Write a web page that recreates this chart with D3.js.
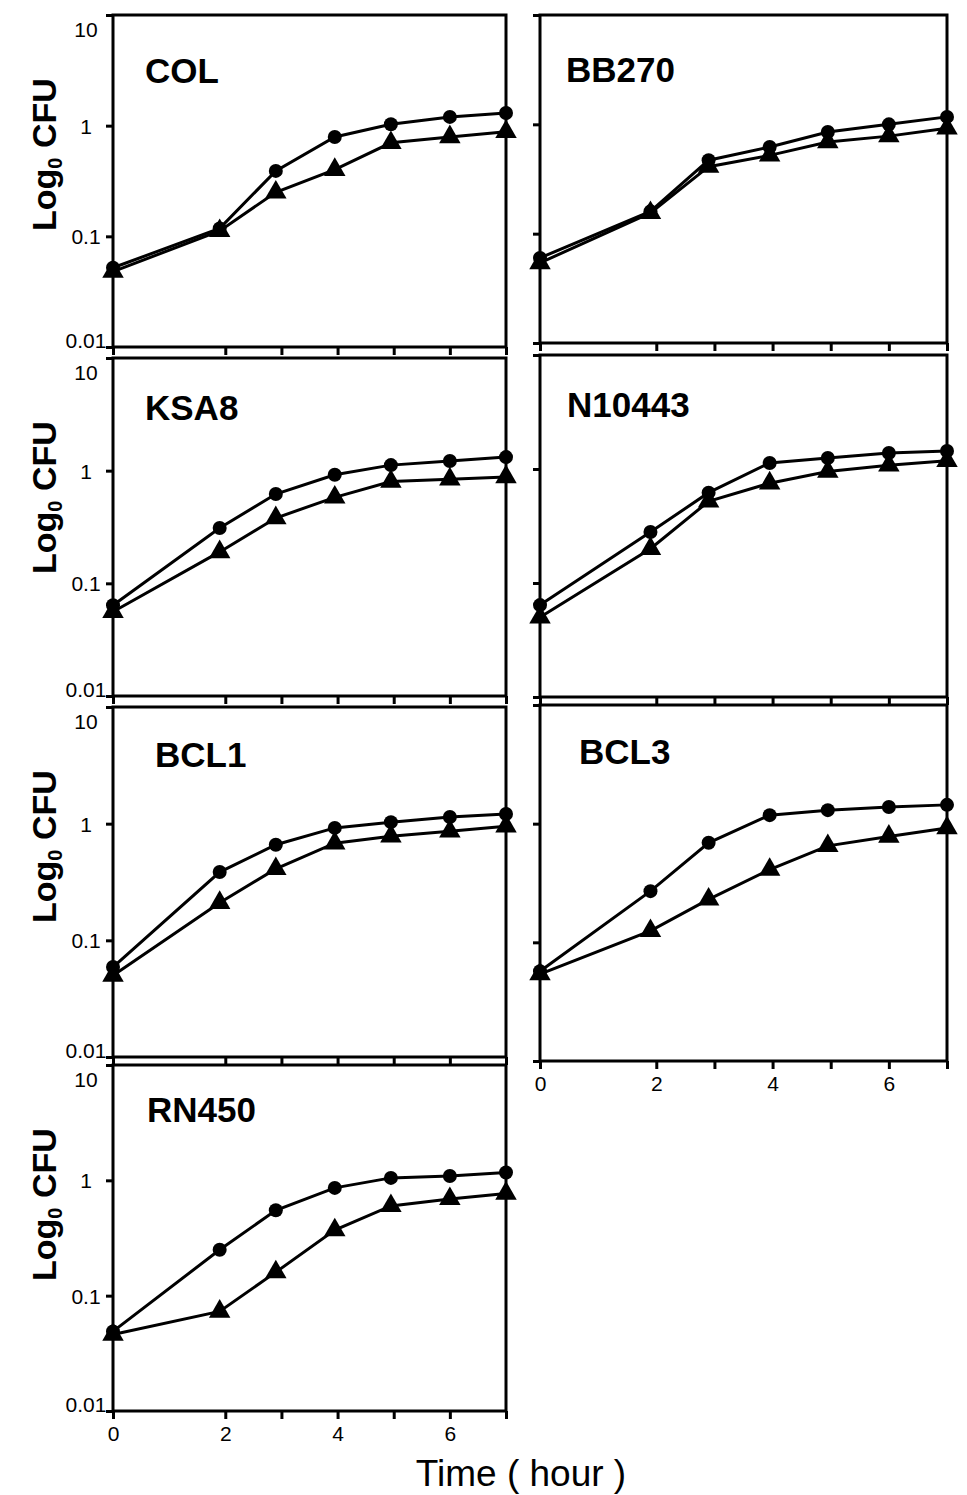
<!DOCTYPE html>
<html>
<head>
<meta charset="utf-8">
<script src="https://cdn.jsdelivr.net/npm/d3@7/dist/d3.min.js"></script>
<style>
body { margin: 0; background: #fff; }
svg { display: block; font-family: "Liberation Sans", Arial, Helvetica, sans-serif; }
</style>
</head>
<body>
<div id="chart"></div>
<script>
// sampling times (hours) and axis ticks
var hours = [0, 1.9, 2.9, 3.95, 4.95, 6, 7];
var xTicks = [0, 2, 3, 4, 5, 6, 7];
var xTickLabels = [0, 2, 4, 6];
var yTicks = [10, 1, 0.1, 0.01];

// CFU readings per strain: circle series and triangle series
var colCircle = [0.052, 0.118, 0.39, 0.79, 1.03, 1.2, 1.3];
var colTriangle = [0.048, 0.112, 0.25, 0.40, 0.70, 0.79, 0.88];
var bb270Circle = [0.060, 0.16, 0.47, 0.62, 0.85, 1.0, 1.17];
var bb270Triangle = [0.054, 0.155, 0.41, 0.52, 0.69, 0.78, 0.92];
var ksa8Circle = [0.064, 0.31, 0.62, 0.92, 1.12, 1.22, 1.32];
var ksa8Triangle = [0.056, 0.19, 0.38, 0.58, 0.80, 0.84, 0.88];
var n10443Circle = [0.064, 0.28, 0.62, 1.13, 1.25, 1.38, 1.44];
var n10443Triangle = [0.050, 0.20, 0.52, 0.75, 0.95, 1.08, 1.18];
var bcl1Circle = [0.059, 0.385, 0.66, 0.92, 1.03, 1.14, 1.21];
var bcl1Triangle = [0.050, 0.21, 0.41, 0.68, 0.78, 0.86, 0.95];
var bcl3Circle = [0.057, 0.27, 0.69, 1.18, 1.30, 1.38, 1.44];
var bcl3Triangle = [0.054, 0.125, 0.23, 0.41, 0.65, 0.78, 0.92];
var rn450Circle = [0.049, 0.25, 0.55, 0.86, 1.05, 1.09, 1.17];
var rn450Triangle = [0.046, 0.073, 0.16, 0.37, 0.60, 0.69, 0.77];

var strains = ['COL', 'BB270', 'KSA8', 'N10443', 'BCL1', 'BCL3', 'RN450'];
var circleSeries = [colCircle, bb270Circle, ksa8Circle, n10443Circle, bcl1Circle, bcl3Circle, rn450Circle];
var triangleSeries = [colTriangle, bb270Triangle, ksa8Triangle, n10443Triangle, bcl1Triangle, bcl3Triangle, rn450Triangle];

// page layout of each panel (pixels)
var leftColumn = { x0: 113, x1: 506 };
var rightColumn = { x0: 540, x1: 947 };
var panelLayout = [
	{ col: leftColumn,  top: 15,   bottom: 347,  lx: 145, ly: 83,   yLabels: true,  xLabels: false },
	{ col: rightColumn, top: 15,   bottom: 343,  lx: 566, ly: 82,   yLabels: false, xLabels: false },
	{ col: leftColumn,  top: 358,  bottom: 696,  lx: 145, ly: 420,  yLabels: true,  xLabels: false },
	{ col: rightColumn, top: 355,  bottom: 697,  lx: 567, ly: 417,  yLabels: false, xLabels: false },
	{ col: leftColumn,  top: 707,  bottom: 1057, lx: 155, ly: 767,  yLabels: true,  xLabels: false },
	{ col: rightColumn, top: 705,  bottom: 1061, lx: 579, ly: 764,  yLabels: false, xLabels: true },
	{ col: leftColumn,  top: 1065, bottom: 1411, lx: 147, ly: 1122, yLabels: true,  xLabels: true }
];

var width = 967;
var height = 1495;
var fontFamily = '"Liberation Sans", Arial, Helvetica, sans-serif';

var svg = d3.select('#chart')
	.append('svg')
	.attr('width', width)
	.attr('height', height);

function drawPanel(i) {
	var p = panelLayout[i];
	var x = d3.scaleLinear().domain([0, 7]).range([p.col.x0, p.col.x1]);
	var y = d3.scaleLog().domain([0.01, 10]).range([p.bottom, p.top]);
	var g = svg.append('g').attr('class', 'panel');

	// bottom axis ticks
	var xAxis = d3.axisBottom(x)
		.tickValues(xTicks)
		.tickSize(8)
		.tickSizeOuter(0)
		.tickFormat(function(d) { return (p.xLabels && xTickLabels.indexOf(d) >= 0) ? d : ''; });
	var gx = g.append('g')
		.attr('transform', 'translate(0,' + p.bottom + ')')
		.call(xAxis);
	gx.attr('font-family', fontFamily).attr('font-size', 21);
	gx.select('.domain').remove();
	gx.selectAll('line').attr('stroke', '#000').attr('stroke-width', 3);
	gx.selectAll('text')
		.attr('y', 15)
		.attr('fill', '#000');

	// left axis ticks
	var yAxis = d3.axisLeft(y)
		.tickValues(yTicks)
		.tickSize(7)
		.tickSizeOuter(0)
		.tickFormat(function(d) { return p.yLabels ? String(d) : ''; });
	var gy = g.append('g')
		.attr('transform', 'translate(' + p.col.x0 + ',0)')
		.call(yAxis);
	gy.attr('font-family', fontFamily).attr('font-size', 21);
	gy.select('.domain').remove();
	gy.selectAll('line').attr('stroke', '#000').attr('stroke-width', 3);
	gy.selectAll('text')
		.attr('x', -27)
		.attr('text-anchor', 'middle')
		.attr('fill', '#000')
		.attr('dy', function(d) { return d === 10 ? '1.0em' : (d === 0.01 ? '0.0em' : '0.35em'); });

	// frame
	g.append('rect')
		.attr('x', p.col.x0)
		.attr('y', p.top)
		.attr('width', p.col.x1 - p.col.x0)
		.attr('height', p.bottom - p.top)
		.attr('fill', 'none')
		.attr('stroke', '#000')
		.attr('stroke-width', 3);

	var circles = hours.map(function(h, k) { return { h: h, v: circleSeries[i][k] }; });
	var triangles = hours.map(function(h, k) { return { h: h, v: triangleSeries[i][k] }; });

	var line = d3.line()
		.x(function(d) { return x(d.h); })
		.y(function(d) { return y(d.v); });

	g.append('path').datum(triangles)
		.attr('d', line).attr('fill', 'none')
		.attr('stroke', '#000').attr('stroke-width', 3);
	g.append('path').datum(circles)
		.attr('d', line).attr('fill', 'none')
		.attr('stroke', '#000').attr('stroke-width', 3);

	g.selectAll('path.tri')
		.data(triangles)
		.enter()
		.append('path')
		.attr('class', 'tri')
		.attr('d', d3.symbol().type(d3.symbolTriangle).size(200))
		.attr('transform', function(d) { return 'translate(' + x(d.h) + ',' + y(d.v) + ')'; })
		.attr('fill', '#000');

	g.selectAll('circle.dot')
		.data(circles)
		.enter()
		.append('circle')
		.attr('class', 'dot')
		.attr('cx', function(d) { return x(d.h); })
		.attr('cy', function(d) { return y(d.v); })
		.attr('r', 7)
		.attr('fill', '#000');

	// strain name
	g.append('text')
		.text(strains[i])
		.attr('x', p.lx)
		.attr('y', p.ly)
		.attr('font-weight', 'bold')
		.style('font-size', '35px');

	// y axis title, left column only
	if (p.yLabels) {
		var t = g.append('text')
			.attr('transform', 'translate(56,' + (p.top + 216) + ') rotate(-90)')
			.attr('font-weight', 'bold')
			.style('font-size', '34px');
		t.append('tspan').text('Log');
		t.append('tspan').text('0').attr('dy', 6).style('font-size', '20px');
		t.append('tspan').text(' CFU').attr('dy', -6);
	}
}

for (var i = 0; i < strains.length; i++) { drawPanel(i); }

svg.append('text')
	.text('Time ( hour )')
	.attr('x', 521)
	.attr('y', 1486)
	.attr('text-anchor', 'middle')
	.style('font-size', '37px');
</script>
</body>
</html>
